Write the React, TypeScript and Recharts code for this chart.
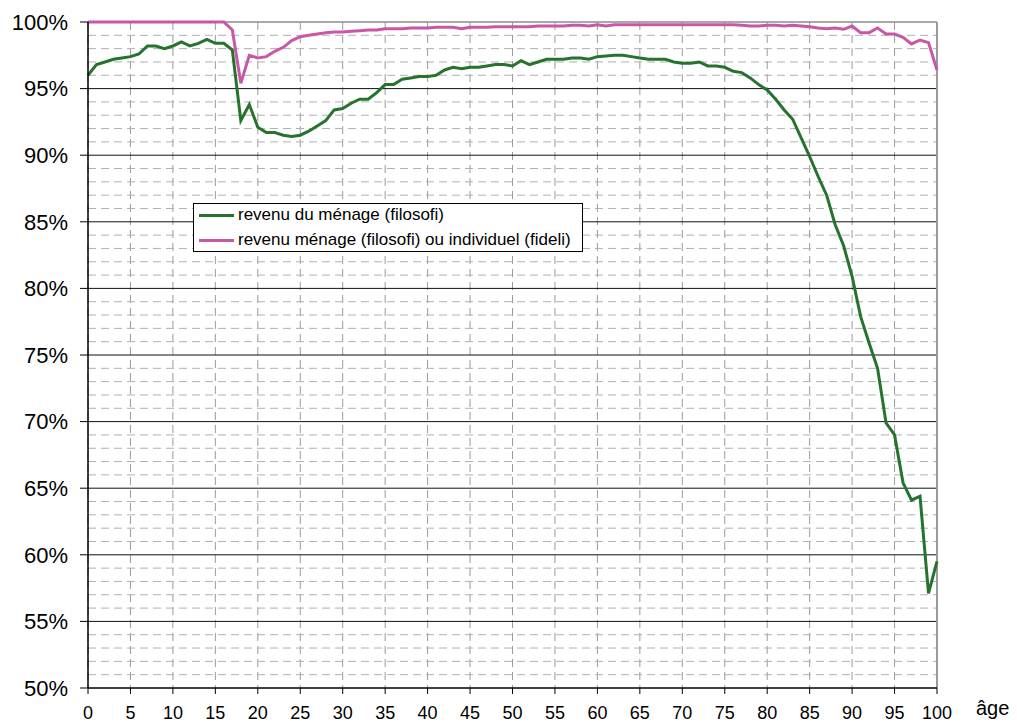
import { LineChart, Line, XAxis, YAxis, CartesianGrid, ReferenceLine } from 'recharts';

const AGES = [
  0, 1, 2, 3, 4, 5, 6, 7, 8, 9, 10, 11, 12, 13, 14, 15, 16, 17, 18, 19, 20,
  21, 22, 23, 24, 25, 26, 27, 28, 29, 30, 31, 32, 33, 34, 35, 36, 37, 38, 39, 40,
  41, 42, 43, 44, 45, 46, 47, 48, 49, 50, 51, 52, 53, 54, 55, 56, 57, 58, 59, 60,
  61, 62, 63, 64, 65, 66, 67, 68, 69, 70, 71, 72, 73, 74, 75, 76, 77, 78, 79, 80,
  81, 82, 83, 84, 85, 86, 87, 88, 89, 90, 91, 92, 93, 94, 95, 96, 97, 98, 99, 100,
];

// revenu du ménage (filosofi)
const MENAGE = [
  96.0, 96.8, 97.0, 97.2, 97.3, 97.4, 97.6, 98.2, 98.2, 98.0, 98.2,
  98.5, 98.2, 98.4, 98.7, 98.4, 98.4, 97.9, 92.6, 93.8, 92.1,
  91.7, 91.7, 91.5, 91.4, 91.5, 91.8, 92.2, 92.6, 93.4, 93.5,
  93.9, 94.2, 94.2, 94.7, 95.3, 95.3, 95.7, 95.8, 95.9, 95.9,
  96.0, 96.4, 96.6, 96.5, 96.6, 96.6, 96.7, 96.8, 96.8, 96.7,
  97.1, 96.8, 97.0, 97.2, 97.2, 97.2, 97.3, 97.3, 97.2, 97.4,
  97.45, 97.5, 97.5, 97.4, 97.3, 97.2, 97.2, 97.2, 97.0, 96.9,
  96.9, 97.0, 96.7, 96.7, 96.6, 96.3, 96.2, 95.8, 95.3, 94.9,
  94.2, 93.4, 92.7, 91.3, 89.9, 88.4, 87.0, 84.8, 83.2, 80.9,
  77.9, 75.9, 74.0, 69.9, 69.0, 65.4, 64.1, 64.4, 57.1, 59.5,
];

// revenu ménage (filosofi) ou individuel (fideli)
const MENAGE_OU_INDIV = [
  100, 100, 100, 100, 100, 100, 100, 100, 100, 100, 100,
  100, 100, 100, 100, 100, 100, 99.4, 95.4, 97.5, 97.3,
  97.4, 97.8, 98.1, 98.6, 98.9, 99.0, 99.1, 99.2, 99.25, 99.25,
  99.3, 99.35, 99.4, 99.4, 99.5, 99.5, 99.5, 99.55, 99.55, 99.55,
  99.6, 99.6, 99.6, 99.5, 99.6, 99.6, 99.6, 99.65, 99.65, 99.65,
  99.65, 99.65, 99.7, 99.7, 99.7, 99.7, 99.75, 99.75, 99.7, 99.8,
  99.7, 99.8, 99.8, 99.8, 99.8, 99.8, 99.8, 99.8, 99.8, 99.8,
  99.8, 99.8, 99.8, 99.8, 99.8, 99.8, 99.75, 99.7, 99.7, 99.75,
  99.75, 99.7, 99.75, 99.7, 99.65, 99.55, 99.5, 99.55, 99.45, 99.7,
  99.2, 99.2, 99.55, 99.1, 99.1, 98.85, 98.35, 98.65, 98.45, 96.4,
];

const X_TICKS = [0, 5, 10, 15, 20, 25, 30, 35, 40, 45, 50, 55, 60, 65, 70, 75, 80, 85, 90, 95, 100];
const Y_TICKS = [50, 55, 60, 65, 70, 75, 80, 85, 90, 95, 100];
const Y_MAJOR = [55, 60, 65, 70, 75, 80, 85, 90, 95];
const Y_MINOR = [
  51, 52, 53, 54, 56, 57, 58, 59, 61, 62, 63, 64, 66, 67, 68, 69, 71, 72, 73, 74,
  76, 77, 78, 79, 81, 82, 83, 84, 86, 87, 88, 89, 91, 92, 93, 94, 96, 97, 98, 99,
];

const SERIES = [
  { key: 'menage', name: 'revenu du ménage (filosofi)', color: '#26732e' },
  { key: 'indiv', name: 'revenu ménage (filosofi) ou individuel (fideli)', color: '#c957a8' },
];

const FONT = '"Liberation Sans", Arial, sans-serif';

const data = AGES.map((age, i) => ({ age, menage: MENAGE[i], indiv: MENAGE_OU_INDIV[i] }));

export default function App() {
  return (
    <div style={{ position: 'absolute', left: 0, top: 0, width: 1017, height: 724, background: '#fff', fontFamily: FONT }}>
      <LineChart width={1017} height={724} data={data} margin={{ top: 22, right: 80, bottom: 0, left: 0 }}>
        <CartesianGrid horizontal={false} stroke="#9a9a9a" strokeDasharray="8 5" />
        {Y_MINOR.map(v => (
          <ReferenceLine key={'m' + v} y={v} stroke="#b0b0b0" strokeDasharray="8 5" />
        ))}
        {Y_MAJOR.map(v => (
          <ReferenceLine key={'M' + v} y={v} stroke="#111" strokeWidth={1} />
        ))}
        <ReferenceLine y={100} stroke="#8c8c8c" strokeWidth={1.5} />
        <ReferenceLine x={100} stroke="#9a9a9a" strokeWidth={2} />
        <XAxis
          dataKey="age"
          type="number"
          domain={[0, 100]}
          ticks={X_TICKS}
          interval={0}
          height={36}
          tickSize={6}
          tickMargin={12}
          axisLine={{ stroke: '#000', strokeWidth: 1.5 }}
          tickLine={{ stroke: '#000' }}
          tick={{ fill: '#000', fontSize: 18, fontFamily: FONT }}
        />
        <YAxis
          type="number"
          domain={[50, 100]}
          ticks={Y_TICKS}
          interval={0}
          width={88}
          tickSize={8}
          tickMargin={12}
          tickFormatter={(v: number) => `${v}%`}
          axisLine={{ stroke: '#000', strokeWidth: 1.5 }}
          tickLine={{ stroke: '#000' }}
          tick={{ fill: '#000', fontSize: 22, fontFamily: FONT }}
        />
        {SERIES.map(s => (
          <Line
            key={s.key}
            type="linear"
            dataKey={s.key}
            name={s.name}
            stroke={s.color}
            strokeWidth={3}
            dot={false}
            isAnimationActive={false}
          />
        ))}
      </LineChart>

      <div
        style={{
          position: 'absolute',
          left: 193,
          top: 203,
          width: 388,
          height: 47,
          border: '1px solid #000',
          background: '#fff',
          fontSize: 17,
          color: '#000',
        }}
      >
        {SERIES.map((s, i) => (
          <div key={s.key} style={{ position: 'absolute', left: 0, top: 1 + i * 25, height: 20, display: 'flex', alignItems: 'center', whiteSpace: 'nowrap' }}>
            <div style={{ marginLeft: 5, width: 35, height: 3, background: s.color }} />
            <span style={{ marginLeft: 4 }}>{s.name}</span>
          </div>
        ))}
      </div>

      <div style={{ position: 'absolute', left: 976, top: 697, fontSize: 20, color: '#000' }}>âge</div>
    </div>
  );
}
